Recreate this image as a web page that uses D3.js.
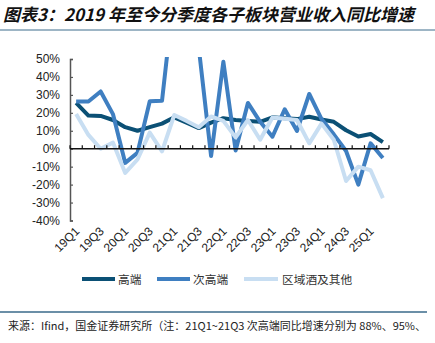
<!DOCTYPE html>
<html>
<head>
<meta charset="utf-8">
<script src="https://cdn.jsdelivr.net/npm/d3@7/dist/d3.min.js"></script>
<style>
  html, body { margin: 0; padding: 0; background: #fff; }
  svg { display: block; }
</style>
</head>
<body>
<svg id="chart" width="435" height="343"></svg>
<script>
// Quarterly categories 19Q1 .. 25Q2
const quarters = [];
for (let y = 19; y <= 25; y++) {
  for (let q = 1; q <= 4; q++) {
    if (y === 25 && q > 2) break;
    quarters.push(y + "Q" + q);
  }
}

// Year-on-year revenue growth (%) per segment
const highEnd = [25.5, 18.5, 18.3, 16, 12, 10, 12, 14, 17.5, 14.5, 11.5, 14.5, 17, 16, 15.5, 15, 17.5, 17, 16.5, 17.8, 16.3, 15, 10.3, 6.8, 8.2, 3.7];
const subHighEnd = [26.3, 26.3, 31.9, 19.3, -7.9, -2.3, 26.5, 26.7, 88, 95, 56, -4, 48.5, -1, 25.5, 15, 6.7, 22, 9.9, 30.5, 16.5, 8, -1.3, -20, 3, -5.2];
const regional = [19.3, 7.7, 0, 3.4, -13.5, -6, 9, -1.5, 18.8, 15.5, 12, 18, 15.5, 6.3, 16, 5, 17.4, 16.7, 16, 3, 14, 5, -18, -10, -12, -27.5];

const seriesNames = ["高端", "次高端", "区域酒及其他"];
const yTicks = [50, 40, 30, 20, 10, 0, -10, -20, -30, -40];
const xTickLabels = quarters.filter((d, i) => i % 2 === 0);

const series = [
  { name: seriesNames[0], values: highEnd, color: "#0b5075" },
  { name: seriesNames[1], values: subHighEnd, color: "#3f7fc1" },
  { name: seriesNames[2], values: regional, color: "#c8def2" }
];

const svg = d3.select("#chart");
const plot = { left: 70, right: 389, top: 59, bottom: 220.5 };

// Title
svg.append("text")
  .attr("x", 3).attr("y", 21)
  .attr("font-family", "'Noto Sans CJK SC', sans-serif")
  .attr("font-size", 17)
  .attr("font-weight", "bold")
  .attr("font-style", "italic")
  .attr("fill", "#111")
  .attr("textLength", 411)
  .attr("lengthAdjust", "spacing")
  .text("图表3：2019 年至今分季度各子板块营业收入同比增速");

svg.append("line")
  .attr("x1", 0).attr("x2", 435).attr("y1", 30).attr("y2", 30)
  .attr("stroke", "#3d6d8c").attr("stroke-width", 1);

const x = d3.scaleBand().domain(quarters).range([plot.left, plot.right]);
const y = d3.scaleLinear().domain([-40, 50]).range([plot.bottom, plot.top]);

// Y axis
const yAxis = svg.append("g")
  .attr("transform", `translate(${plot.left},0)`)
  .call(d3.axisRight(y).tickValues(yTicks).tickSize(3).tickFormat(""));
yAxis.select(".domain").attr("stroke", "#555").attr("stroke-width", 1.5);
yAxis.selectAll(".tick line").attr("stroke", "#555").attr("stroke-width", 1.2);

svg.append("g").selectAll("text")
  .data(yTicks)
  .join("text")
  .attr("x", 60)
  .attr("y", d => y(d))
  .attr("dy", "0.35em")
  .attr("text-anchor", "end")
  .attr("font-family", "'Liberation Sans', Arial, sans-serif")
  .attr("font-size", 12)
  .attr("fill", "#222")
  .text(d => d + "%");

// Lines, clipped at the top of the value range
svg.append("clipPath").attr("id", "plotClip")
  .append("rect")
  .attr("x", plot.left).attr("y", plot.top - 2)
  .attr("width", plot.right - plot.left + 4)
  .attr("height", plot.bottom - plot.top + 24);

const line = d3.line()
  .x((d, i) => x(quarters[i]) + x.bandwidth() / 2)
  .y(d => y(d));

const linesG = svg.append("g").attr("clip-path", "url(#plotClip)");
series.forEach(s => {
  linesG.append("path")
    .datum(s.values)
    .attr("fill", "none")
    .attr("stroke", s.color)
    .attr("stroke-width", 4)
    .attr("stroke-linejoin", "round")
    .attr("d", line);
});

// X axis at zero, ticks on category boundaries
const xAxisG = svg.append("g").attr("transform", `translate(0,${y(0)})`);
xAxisG.append("line")
  .attr("x1", plot.left).attr("x2", plot.right)
  .attr("stroke", "#111").attr("stroke-width", 1.5);
xAxisG.selectAll(".tk")
  .data(quarters.concat(["end"]))
  .join("line")
  .attr("class", "tk")
  .attr("x1", (d, i) => plot.left + i * x.step())
  .attr("x2", (d, i) => plot.left + i * x.step())
  .attr("y1", 0).attr("y2", -3.5)
  .attr("stroke", "#111").attr("stroke-width", 1.2);

// Rotated quarter labels
svg.append("g").selectAll("text")
  .data(xTickLabels)
  .join("text")
  .attr("transform", d => `translate(${x(d) + x.bandwidth() / 2 + 4},${232}) rotate(-45)`)
  .attr("text-anchor", "end")
  .attr("font-family", "'Liberation Sans', Arial, sans-serif")
  .attr("font-size", 12)
  .attr("fill", "#222")
  .text(d => d);

// Legend
const legendItems = [
  { x1: 82, x2: 115, tx: 118 },
  { x1: 157, x2: 190, tx: 193 },
  { x1: 244, x2: 278, tx: 282 }
];
const legend = svg.append("g");
series.forEach((s, i) => {
  const it = legendItems[i];
  legend.append("line")
    .attr("x1", it.x1).attr("x2", it.x2).attr("y1", 279).attr("y2", 279)
    .attr("stroke", s.color).attr("stroke-width", 4);
  legend.append("text")
    .attr("x", it.tx).attr("y", 283.5)
    .attr("font-family", "'Noto Sans CJK SC', sans-serif")
    .attr("font-size", 11.7)
    .attr("fill", "#333")
    .text(s.name);
});

// Source note
svg.append("line")
  .attr("x1", 0).attr("x2", 427).attr("y1", 312).attr("y2", 312)
  .attr("stroke", "#3a6a8a").attr("stroke-width", 1.5);
svg.append("text")
  .attr("x", 8).attr("y", 330)
  .attr("font-family", "'Noto Sans CJK SC', sans-serif")
  .attr("font-size", 10.8)
  .attr("fill", "#222")
  .attr("textLength", 418)
  .attr("lengthAdjust", "spacingAndGlyphs")
  .text("来源：Ifind，国金证券研究所（注：21Q1~21Q3 次高端同比增速分别为 88%、95%、");
</script>
</body>
</html>
